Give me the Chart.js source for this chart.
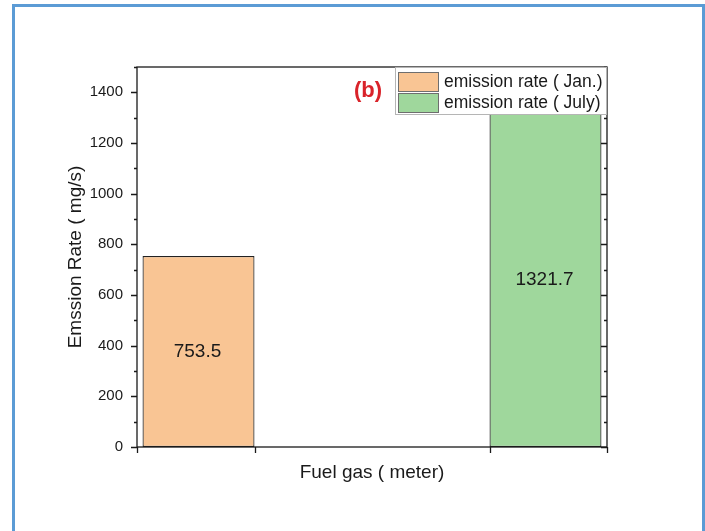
<!DOCTYPE html>
<html>
<head>
<meta charset="utf-8">
<script src="https://cdn.jsdelivr.net/npm/chart.js@4.4.1/dist/chart.umd.min.js"></script>
<style>
  html, body { margin: 0; padding: 0; background: #fff; overflow: hidden; }
  #wrap { position: relative; width: 705px; height: 531px; }
  #frame {
    position: absolute; left: 12px; top: 4px; width: 693px; height: 600px;
    box-sizing: border-box; border: 3px solid #5b9bd5;
  }
  #c { position: absolute; left: 0; top: 0; }
</style>
</head>
<body>
<div id="wrap">
  <div id="frame"></div>
  <canvas id="c" width="705" height="531"></canvas>
</div>
<script>
// data
const categories = ['Jan.', 'July'];
const janValues  = [753.5, null];
const julyValues = [null, 1321.7];
const seriesNames = ['emission rate ( Jan.)', 'emission rate ( July)'];
const yTicks = [0, 200, 400, 600, 800, 1000, 1200, 1400];
const yMax = 1500;

const FONT = "'Liberation Sans', Arial, sans-serif";
const JAN_COLOR  = '#f9c594';
const JULY_COLOR = '#9fd79c';
const INK = '#1a1a1a';

// frame, ticks (major/minor), value labels, legend, panel tag
const decorations = {
  id: 'decorations',
  afterDatasetsDraw(chart) {
    const ctx = chart.ctx;
    // value labels in the middle of each bar
    ctx.save();
    ctx.fillStyle = INK;
    ctx.font = '19px ' + FONT;
    ctx.textAlign = 'center';
    ctx.textBaseline = 'middle';
    chart.data.datasets.forEach((ds, di) => {
      chart.getDatasetMeta(di).data.forEach((bar, i) => {
        const v = ds.data[i];
        if (v == null) return;
        ctx.fillText(String(v), bar.x - 1, (bar.y + bar.base) / 2);
      });
    });
    ctx.restore();
  },
  afterDraw(chart) {
    const ctx = chart.ctx;
    const a = chart.chartArea;
    const x = chart.scales.x, y = chart.scales.y;
    ctx.save();
    ctx.strokeStyle = INK;
    ctx.lineWidth = 1.3;
    ctx.strokeRect(a.left, a.top, a.right - a.left, a.bottom - a.top);

    // y ticks: out on the left, in on the right
    for (let v = 0; v <= yMax; v += 100) {
      const py = Math.round(y.getPixelForValue(v)) + 0.5;
      const len = v % 200 === 0 ? 6 : 3;
      ctx.beginPath();
      ctx.moveTo(a.left - len, py); ctx.lineTo(a.left, py);
      ctx.moveTo(a.right - len, py); ctx.lineTo(a.right, py);
      ctx.stroke();
    }
    // x ticks at the edges and between the groups
    const xs = [a.left, x.getPixelForValue(0), x.getPixelForValue(1), a.right];
    xs.forEach(px => {
      ctx.beginPath();
      ctx.moveTo(Math.round(px) + 0.5, a.bottom);
      ctx.lineTo(Math.round(px) + 0.5, a.bottom + 6);
      ctx.stroke();
    });

    // legend box, top right inside the plot
    const lx = a.right - 212, ly = a.top, lw = 212, lh = 48;
    ctx.fillStyle = '#fff';
    ctx.fillRect(lx, ly, lw, lh);
    ctx.strokeStyle = '#b5b5b5';
    ctx.lineWidth = 1;
    ctx.strokeRect(lx + 0.5, ly + 0.5, lw - 1, lh - 1);
    const swatch = [JAN_COLOR, JULY_COLOR];
    ctx.font = '17.5px ' + FONT;
    ctx.textAlign = 'left';
    ctx.textBaseline = 'middle';
    seriesNames.forEach((name, i) => {
      const sy = ly + 5 + i * 21;
      ctx.fillStyle = swatch[i];
      ctx.fillRect(lx + 3, sy, 40, 19);
      ctx.strokeStyle = '#6e6e6e';
      ctx.strokeRect(lx + 3.5, sy + 0.5, 40, 19);
      ctx.fillStyle = INK;
      ctx.fillText(name, lx + 49, sy + 10);
    });

    // panel tag
    ctx.fillStyle = '#d9232a';
    ctx.font = 'bold 22px ' + FONT;
    ctx.textAlign = 'center';
    ctx.fillText('(b)', lx - 27, ly + 24);
    ctx.restore();
  }
};

new Chart(document.getElementById('c'), {
  type: 'bar',
  data: {
    labels: categories,
    datasets: [{
      label: seriesNames[0],
      data: janValues,
      backgroundColor: JAN_COLOR,
      borderColor: '#222',
      borderWidth: 1.2,
      borderSkipped: false,
    }, {
      label: seriesNames[1],
      data: julyValues,
      backgroundColor: JULY_COLOR,
      borderColor: '#222',
      borderWidth: 1.2,
      borderSkipped: false,
    }]
  },
  options: {
    responsive: false,
    animation: false,
    layout: { padding: { left: 64, top: 67, right: 98, bottom: 44 } },
    datasets: { bar: { categoryPercentage: 0.953, barPercentage: 1 } },
    plugins: {
      legend: { display: false },
      tooltip: { enabled: false }
    },
    scales: {
      x: {
        grid: { display: false, drawTicks: false },
        border: { display: false },
        ticks: { display: false },
        title: {
          display: true, text: 'Fuel gas ( meter)', color: INK,
          font: { family: FONT, size: 19 }, padding: { top: 0, bottom: 3 }
        },
        afterFit: s => { s.height = 40; }
      },
      y: {
        min: 0, max: yMax,
        grid: { display: false, drawTicks: false },
        border: { display: false },
        afterBuildTicks: s => { s.ticks = yTicks.map(v => ({ value: v })); },
        ticks: {
          color: INK, padding: 14, font: { family: FONT, size: 15 },
          callback: v => String(v)
        },
        title: {
          display: true, text: 'Emssion Rate ( mg/s)', color: INK,
          font: { family: FONT, size: 19 }, padding: 0
        },
        afterFit: s => { s.width = 73; }
      }
    }
  },
  plugins: [decorations]
});
</script>
</body>
</html>
